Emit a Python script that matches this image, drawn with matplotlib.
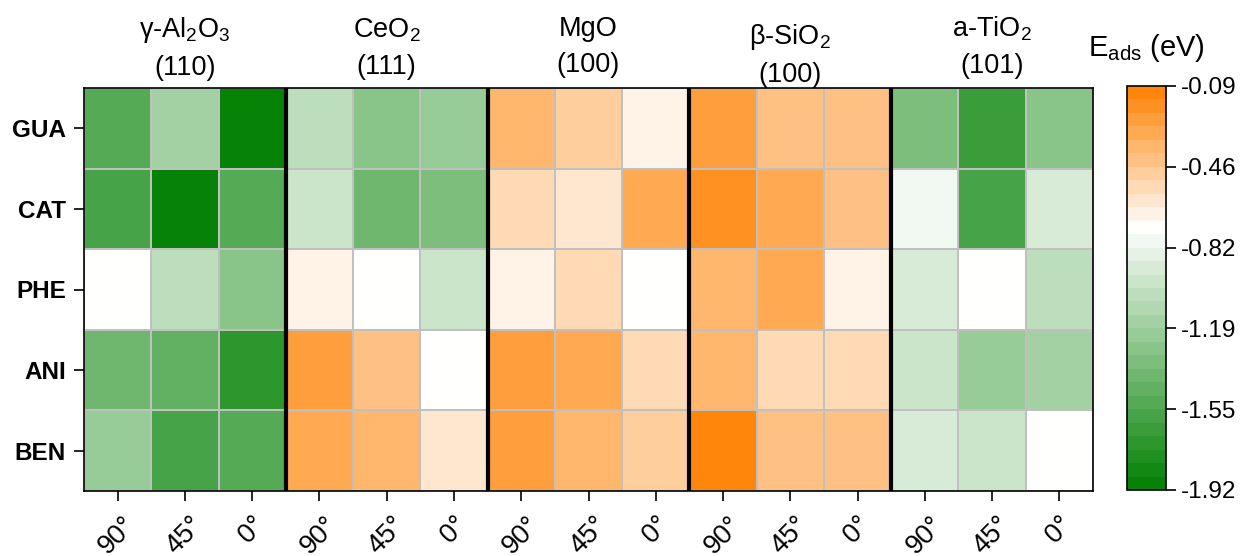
import numpy as np
import matplotlib.pyplot as plt
import matplotlib.transforms as mtransforms
from matplotlib.colors import LinearSegmentedColormap, ListedColormap, BoundaryNorm

plt.rcParams['font.family'] = ['Liberation Sans', 'DejaVu Sans']
plt.rcParams['mathtext.fontset'] = 'custom'
plt.rcParams['mathtext.rm'] = 'Liberation Sans'
plt.rcParams['mathtext.default'] = 'regular'

# molecules (rows) and angles (columns per surface)
molecules = ['GUA', 'CAT', 'PHE', 'ANI', 'BEN']
angles = ['90°', '45°', '0°']
surfaces = ['γ-Al$_2$O$_3$\n(110)', 'CeO$_2$\n(111)', 'MgO\n(100)',
            'β-SiO$_2$\n(100)', 'a-TiO$_2$\n(101)']

al2o3 = [[-1.52, -1.16, -1.90],
         [-1.60, -1.90, -1.52],
         [-0.73, -1.03, -1.28],
         [-1.42, -1.47, -1.73],
         [-1.22, -1.60, -1.52]]
ceo2 = [[-1.03, -1.28, -1.21],
        [-0.97, -1.42, -1.35],
        [-0.67, -0.73, -0.97],
        [-0.23, -0.40, -0.73],
        [-0.29, -0.34, -0.60]]
mgo = [[-0.34, -0.47, -0.67],
       [-0.53, -0.60, -0.29],
       [-0.67, -0.53, -0.73],
       [-0.23, -0.29, -0.53],
       [-0.23, -0.34, -0.47]]
sio2 = [[-0.23, -0.40, -0.45],
        [-0.16, -0.29, -0.40],
        [-0.34, -0.29, -0.67],
        [-0.34, -0.53, -0.53],
        [-0.11, -0.40, -0.45]]
tio2 = [[-1.35, -1.67, -1.28],
        [-0.79, -1.60, -0.91],
        [-0.91, -0.73, -1.03],
        [-0.97, -1.22, -1.16],
        [-0.91, -0.97, -0.73]]

vmin, vmax = -1.92, -0.09
nlev = 30

data = np.hstack([np.array(al2o3), np.array(ceo2), np.array(mgo),
                  np.array(sio2), np.array(tio2)])

base = LinearSegmentedColormap.from_list(
    'gwo', [(0, '#008000'), (0.65, '#ffffff'), (1, '#ff8000')])
cmap = ListedColormap(base((np.arange(nlev) + 0.5) / nlev))
bounds = np.linspace(vmin, vmax, nlev + 1)
norm = BoundaryNorm(bounds, nlev)

W, H = 1242, 556
fig = plt.figure(figsize=(W / 100, H / 100), dpi=100)
ax = fig.add_axes([84 / W, 1 - 491 / H, 1009 / W, 403 / H])

ncol = data.shape[1]
mesh = ax.pcolormesh(np.arange(ncol + 1), np.arange(len(molecules) + 1), data,
                     cmap=cmap, norm=norm, edgecolors='#c0c0c0', linewidth=1.2)
ax.set_xlim(0, ncol)
ax.set_ylim(len(molecules), 0)

for k in range(1, len(surfaces)):
    ax.axvline(3 * k, color='black', lw=3)

ax.set_xticks(np.arange(ncol) + 0.5)
ax.set_xticklabels(angles * len(surfaces), rotation=45, ha='center', fontsize=19.5)
ax.set_yticks(np.arange(len(molecules)) + 0.5)
ax.set_yticklabels(molecules, fontsize=17.5, fontweight='bold')
ax.tick_params(axis='both', length=7, width=1.2, pad=6)
ax.tick_params(axis='x', pad=8)
for s in ax.spines.values():
    s.set_linewidth(1.2)

# surface names above each block of three columns
trans = mtransforms.blended_transform_factory(ax.transData, fig.transFigure)
label_y = [48, 48, 47, 55, 47]
for k, lab in enumerate(surfaces):
    ax.text(3 * k + 1.5, 1 - label_y[k] / H, lab, transform=trans,
            ha='center', va='center', fontsize=19.5, linespacing=1.5)

cax = fig.add_axes([1127 / W, 1 - 490 / H, 39 / W, 404 / H])
cb = fig.colorbar(mesh, cax=cax, ticks=np.linspace(vmin, vmax, 6))
cb.ax.minorticks_off()
cb.ax.set_yticklabels(['%.2f' % t for t in np.linspace(vmin, vmax, 6)])
cb.ax.tick_params(labelsize=17.5, length=7, width=1.2, pad=4)
cb.outline.set_linewidth(1.2)
fig.text(1146 / W, 1 - 48 / H, 'E$_{ads}$ (eV)', ha='center', va='center', fontsize=21)

fig.savefig('out.png', dpi=100)
